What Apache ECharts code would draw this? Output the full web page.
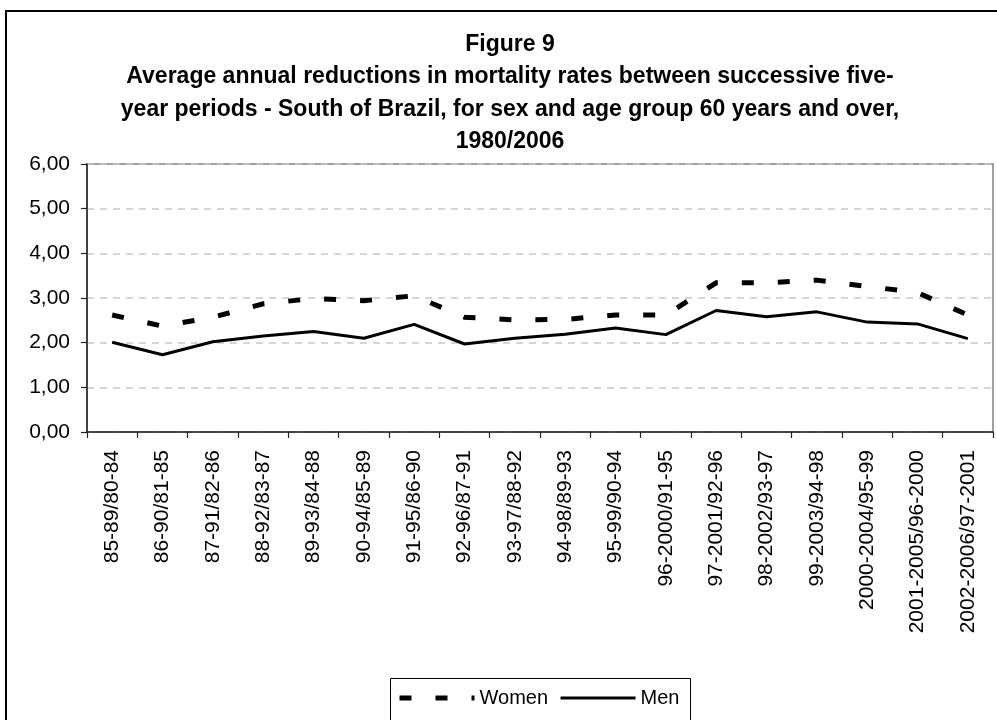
<!DOCTYPE html>
<html>
<head>
<meta charset="utf-8">
<script src="https://cdn.jsdelivr.net/npm/echarts@6/dist/echarts.min.js"></script>
<style>
  html, body { margin: 0; padding: 0; background: #fff; }
  #chart { width: 997px; height: 720px; }
</style>
</head>
<body>
<div id="chart"></div>
<script>
// Five-year period pairs compared
const periods = [
  '85-89/80-84', '86-90/81-85', '87-91/82-86', '88-92/83-87', '89-93/84-88',
  '90-94/85-89', '91-95/86-90', '92-96/87-91', '93-97/88-92', '94-98/89-93',
  '95-99/90-94', '96-2000/91-95', '97-2001/92-96', '98-2002/93-97',
  '99-2003/94-98', '2000-2004/95-99', '2001-2005/96-2000', '2002-2006/97-2001'
];

// Average annual reduction in mortality rates (%), age 60 and over
const women = [2.62, 2.37, 2.57, 2.87, 2.99, 2.94, 3.05, 2.57, 2.51, 2.52,
               2.62, 2.62, 3.34, 3.34, 3.40, 3.26, 3.12, 2.62];
const men   = [2.01, 1.73, 2.02, 2.15, 2.25, 2.10, 2.41, 1.97, 2.10, 2.19,
               2.33, 2.18, 2.72, 2.58, 2.69, 2.46, 2.42, 2.09];

const yTicks = [0, 1, 2, 3, 4, 5, 6];

const titleLines = [
  'Figure 9',
  'Average annual reductions in mortality rates between successive five-',
  'year periods - South of Brazil, for sex and age group 60 years and over,',
  '1980/2006'
];

const FONT = 'Liberation Sans, Arial, sans-serif';

const womenLine = { color: '#000', width: 5, type: [12, 24], cap: 'butt', join: 'miter' };
const menLine = { color: '#000', width: 3, type: 'solid' };

const chart = echarts.init(document.getElementById('chart'), null, { renderer: 'canvas' });

chart.setOption({
  backgroundColor: '#fff',
  animation: false,
  textStyle: { fontFamily: FONT },
  title: {
    text: titleLines.join('\n'),
    left: 510,
    textAlign: 'center',
    top: 28,
    padding: 0,
    textStyle: {
      fontFamily: FONT,
      fontSize: 23,
      fontWeight: 'bold',
      color: '#000',
      lineHeight: 32.5
    }
  },
  graphic: [
    {
      type: 'rect',
      z: -10,
      shape: { x: 6, y: 11, width: 1100, height: 800 },
      style: { fill: 'none', stroke: '#000', lineWidth: 2 }
    },
    {
      type: 'rect',
      z: -5,
      shape: { x: 390.5, y: 678.5, width: 300, height: 80 },
      style: { fill: '#fff', stroke: '#000', lineWidth: 1 }
    }
  ],
  legend: {
    left: 397,
    top: 688,
    padding: 0,
    itemWidth: 75,
    itemHeight: 14,
    itemGap: 11,
    itemStyle: { opacity: 0 },
    textStyle: { fontFamily: FONT, fontSize: 20, color: '#000' },
    data: [
      { name: 'Women', lineStyle: womenLine },
      { name: 'Men', lineStyle: menLine }
    ]
  },
  grid: {
    left: 87,
    right: 4,
    top: 164,
    bottom: 288,
    show: true,
    borderColor: '#808080',
    borderWidth: 1.5,
    backgroundColor: 'transparent'
  },
  xAxis: {
    type: 'category',
    data: periods,
    boundaryGap: true,
    axisLine: { lineStyle: { color: '#222', width: 1.5 } },
    axisTick: { show: true, length: 6, lineStyle: { color: '#222', width: 1.2 } },
    axisLabel: {
      rotate: 90,
      margin: 18,
      interval: 0,
      fontFamily: FONT,
      fontSize: 21,
      color: '#000'
    },
    splitLine: { show: false }
  },
  yAxis: {
    type: 'value',
    min: yTicks[0],
    max: yTicks[yTicks.length - 1],
    interval: 1,
    axisLine: { show: true, lineStyle: { color: '#222', width: 1.5 } },
    axisTick: { show: true, length: 6, lineStyle: { color: '#222', width: 1.2 } },
    axisLabel: {
      margin: 17,
      fontFamily: FONT,
      fontSize: 21,
      color: '#000',
      formatter: v => v.toFixed(2).replace('.', ',')
    },
    splitLine: {
      show: true,
      lineStyle: { color: '#c8c8c8', width: 1.5, type: [7, 6] }
    }
  },
  series: [
    {
      name: 'Women',
      type: 'line',
      data: women,
      symbol: 'none',
      lineStyle: womenLine,
      itemStyle: { color: '#000' },
      z: 3
    },
    {
      name: 'Men',
      type: 'line',
      data: men,
      symbol: 'none',
      lineStyle: menLine,
      itemStyle: { color: '#000' },
      z: 4
    }
  ]
});
</script>
</body>
</html>
